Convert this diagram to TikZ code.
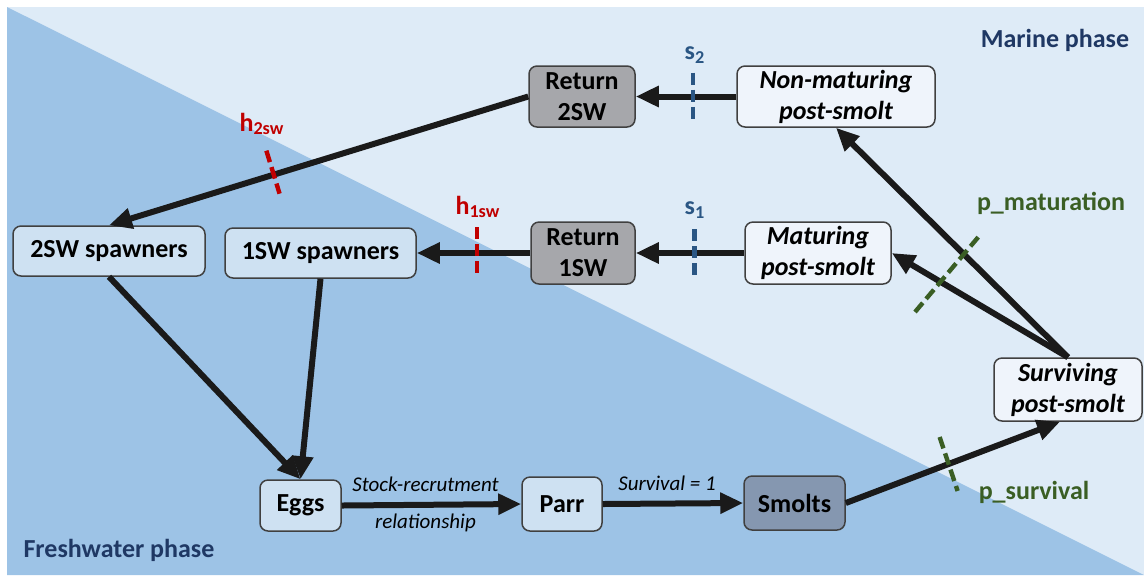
\documentclass[tikz,border=0pt]{standalone}
\usepackage{fontspec}
\setmainfont{Carlito}
\usepackage{tikz}
\usetikzlibrary{
  arrows.meta,
  calc
}
\definecolor{seaback}{RGB}{222,235,247}
\definecolor{riverback}{RGB}{157,195,230}
\definecolor{riverbox}{RGB}{206,225,242}
\definecolor{seabox}{RGB}{239,244,251}
\definecolor{returngray}{RGB}{166,167,171}
\definecolor{smoltgray}{RGB}{133,151,176}
\definecolor{phasenavy}{RGB}{31,56,100}
\definecolor{harvestred}{RGB}{192,0,0}
\definecolor{survblue}{RGB}{42,86,132}
\definecolor{probgreen}{RGB}{58,94,36}
\definecolor{flowblack}{RGB}{26,26,26}

\tikzset{stage/.style={
  draw=black!75, line width=0.75pt,
  rounded corners=4pt,
  inner sep=0pt,
  align=center,
  font=\fontsize{13}{15.5}\selectfont\bfseries
}}
\tikzset{riverstage/.style={stage, fill=riverbox}}
\tikzset{seastage/.style={stage, fill=seabox,
  font=\fontsize{13}{15.5}\selectfont\bfseries\itshape}}
\tikzset{returnstage/.style={stage, fill=returngray}}
\tikzset{flow/.style={
  draw=flowblack, line width=3pt,
  -{Triangle[length=11.5pt,width=10pt]}
}}
\tikzset{cut/.style={line width=2.2pt, dash pattern=on 6pt off 2.6pt}}
\tikzset{harvest/.style={cut, draw=harvestred}}
\tikzset{survmark/.style={cut, draw=survblue}}
\tikzset{probmark/.style={cut, draw=probgreen}}
\tikzset{marklabel/.style={font=\fontsize{13}{15}\selectfont\bfseries}}
\tikzset{steplabel/.style={font=\fontsize{10.5}{12}\selectfont\itshape}}
\tikzset{phase/.style={font=\fontsize{13}{15}\selectfont\bfseries, text=phasenavy}}

\begin{document}
\begin{tikzpicture}[x=0.5pt,y=-0.5pt]
  \useasboundingbox (0,0) rectangle (1144,575);
  % marine and freshwater halves
  \fill[seaback] (7,7) rectangle (1144,575);
  \fill[riverback] (7,7) -- (1144,575) -- (7,575) -- cycle;
  \node[phase] (sea) at (1055,40) {Marine phase};
  \node[phase] (river) at (119,550) {Freshwater phase};

  % stages at sea
  \node[returnstage, minimum width=53pt, minimum height=30.5pt] (ret2) at (582,96.5) {Return\\2SW};
  \node[seastage, minimum width=99pt, minimum height=30.5pt] (nonmat) at (836,96.5) {Non-maturing\\post-smolt};
  \node[returnstage, minimum width=52pt, minimum height=31pt] (ret1) at (583,253) {Return\\1SW};
  \node[seastage, minimum width=73pt, minimum height=31pt] (mat) at (818,253) {Maturing\\post-smolt};
  \node[seastage, minimum width=74pt, minimum height=31.5pt] (surv) at (1068,389.5) {Surviving\\post-smolt};

  % stages in the river
  \node[riverstage, minimum width=96pt, minimum height=25pt] (sp2) at (109,251) {2SW spawners};
  \node[riverstage, minimum width=95.5pt, minimum height=25pt] (sp1) at (320.5,253) {1SW spawners};
  \node[riverstage, minimum width=40.5pt, minimum height=25.5pt] (eggs) at (300.5,505.5) {Eggs};
  \node[riverstage, minimum width=40pt, minimum height=27pt] (parr) at (562,504) {Parr};
  \node[stage, fill=smoltgray, minimum width=50.5pt, minimum height=27pt] (smolts) at (794.5,503) {Smolts};

  % life cycle
  \draw[flow] (eggs.east) -- node[steplabel, midway, xshift=-3pt, yshift=10pt] {Stock-recrutment}
    node[steplabel, midway, xshift=-3pt, yshift=-9pt] {relationship} (parr.west);
  \draw[flow] (parr.east) -- node[steplabel, midway, xshift=-3pt, yshift=10pt] {Survival = 1} (smolts.west);
  \draw[flow] (smolts.east) -- coordinate[pos=0.48] (psurv) ([xshift=-4pt]surv.south);
  \draw[flow] (surv.north) -- (mat.east);
  \draw[flow] (surv.north) -- (nonmat.south);
  \draw[flow] (nonmat.west) -- coordinate[pos=0.43] (s2) (ret2.east);
  \draw[flow] (mat.west) -- coordinate[pos=0.46] (s1) (ret1.east);
  \draw[flow] (ret1.west) -- coordinate[pos=0.47] (h1) (sp1.east);
  \draw[flow] (ret2.west) -- coordinate[pos=0.607] (h2) (sp2.north);
  \draw[flow] (sp2.south) -- (eggs.north);
  \draw[flow] (sp1.south) -- (eggs.north);

  % harvest, survival and maturation cuts
  \draw[survmark] ($(s2)+(0,-24)$) -- ($(s2)+(0,24)$);
  \draw[survmark] ($(s1)+(0,-24)$) -- ($(s1)+(0,24)$);
  \draw[harvest] ($(h1)+(0,-26)$) -- ($(h1)+(0,21)$);
  \draw[harvest] ($(h2)+(-7.4,-24)$) -- ($(h2)+(5.8,19)$);
  \draw[probmark] (915,312) -- (980,235);
  \draw[probmark] ($(psurv)+(-9,-27)$) -- ($(psurv)+(9,27)$);

  \node[marklabel, text=survblue] (s2lbl) at (695,55) {s\textsubscript{2}};
  \node[marklabel, text=survblue] (s1lbl) at (695,210) {s\textsubscript{1}};
  \node[marklabel, text=harvestred] (h2lbl) at (262,124) {h\textsubscript{2sw}};
  \node[marklabel, text=harvestred] (h1lbl) at (478,207) {h\textsubscript{1sw}};
  \node[marklabel, text=probgreen] (pmatlbl) at (1051,203) {p\_maturation};
  \node[marklabel, text=probgreen] (psurvlbl) at (1034,492) {p\_survival};
\end{tikzpicture}
\end{document}
